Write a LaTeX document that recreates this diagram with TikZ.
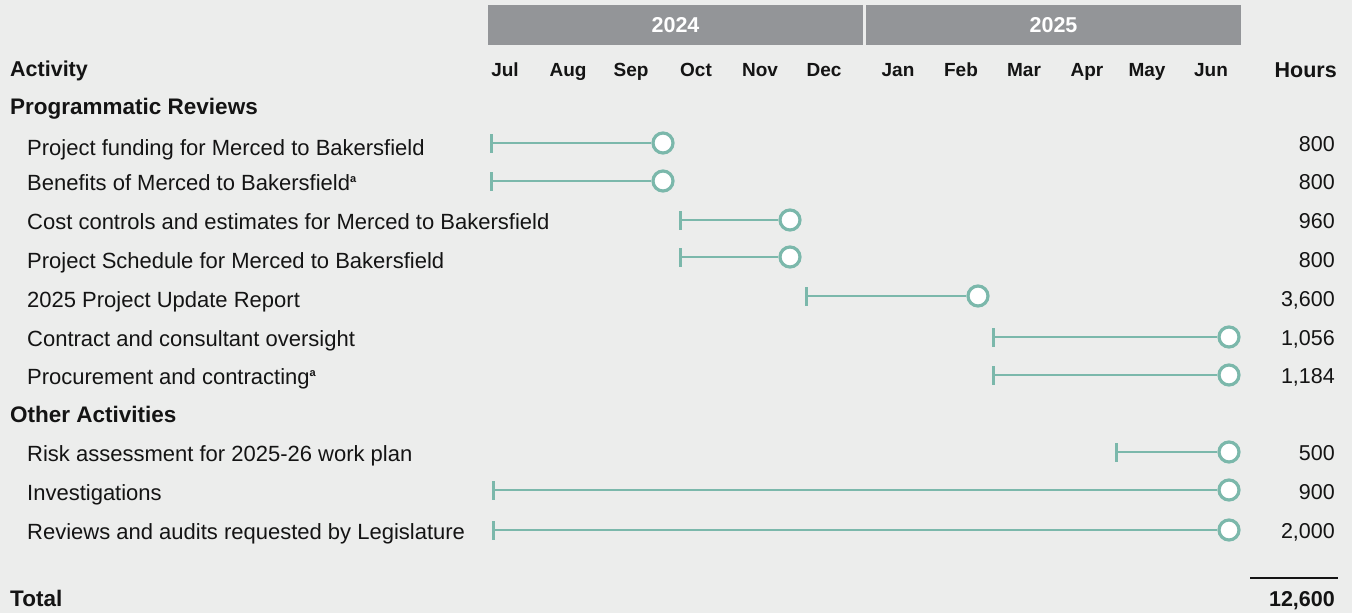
\documentclass[tikz,border=0pt]{standalone}
\usepackage{fontspec}
\setmainfont{Liberation Sans}
\usetikzlibrary{arrows.meta}
\definecolor{bg}{HTML}{ECEDEC}
\definecolor{hdr}{HTML}{939598}
\definecolor{teal}{HTML}{7BB8AB}
\definecolor{ink}{HTML}{141414}
\tikzset{
  lbl/.style={anchor=base west, inner sep=0pt, text=ink, font=\fontsize{22}{24}\selectfont},
  grp/.style={anchor=base west, inner sep=0pt, text=ink, font=\fontsize{22.5}{24}\selectfont\bfseries},
  mon/.style={anchor=base, inner sep=0pt, text=ink, font=\fontsize{19}{22}\selectfont\bfseries},
  hrs/.style={anchor=base east, inner sep=0pt, text=ink, font=\fontsize{21.5}{24}\selectfont},
  yearbar/.style={fill=hdr, draw=none, minimum height=40pt, inner sep=0pt, text=white, font=\fontsize{21.5}{24}\selectfont\bfseries},
  endc/.style={circle, draw=teal, line width=3.2pt, fill=white, minimum size=20pt, inner sep=0pt},
  barl/.style={draw=teal, line width=2.8pt, {Bar[width=19pt,line width=2.8pt]}-},
}
\begin{document}
\begin{tikzpicture}[x=1pt,y=-1pt]
\fill[bg] (0,0) rectangle (1352,613);
\useasboundingbox (0,0) rectangle (1352,613);
% year header
\node[yearbar, minimum width=375pt] (y24) at (675.5,25) {2024};
\node[yearbar, minimum width=375pt] (y25) at (1053.5,25) {2025};
% column headers
\node[grp, font=\fontsize{21.5}{24}\selectfont\bfseries] (act) at (10,76) {Activity};
\node[mon] (m1) at (505,76) {Jul};
\node[mon] (m2) at (568,76) {Aug};
\node[mon] (m3) at (631,76) {Sep};
\node[mon] (m4) at (696,76) {Oct};
\node[mon] (m5) at (760,76) {Nov};
\node[mon] (m6) at (824,76) {Dec};
\node[mon] (m7) at (898,76) {Jan};
\node[mon] (m8) at (961,76) {Feb};
\node[mon] (m9) at (1024,76) {Mar};
\node[mon] (m10) at (1087,76) {Apr};
\node[mon] (m11) at (1147,76) {May};
\node[mon] (m12) at (1211,76) {Jun};
\node[hrs, font=\fontsize{21.5}{24}\selectfont\bfseries] (hh) at (1337,77) {Hours};
% groups
\node[grp] (g1) at (10,114) {Programmatic Reviews};
\node[grp] (g2) at (10,422) {Other Activities};
% rows
\node[lbl] (l1) at (27,155) {Project funding for Merced to Bakersfield};
\node[lbl] (l2) at (27,190) {Benefits of Merced to Bakersfield\textsuperscript{\bfseries\fontsize{11}{12}\selectfont a}};
\node[lbl] (l3) at (27,229) {Cost controls and estimates for Merced to Bakersfield};
\node[lbl] (l4) at (27,268) {Project Schedule for Merced to Bakersfield};
\node[lbl] (l5) at (27,307) {2025 Project Update Report};
\node[lbl] (l6) at (27,346) {Contract and consultant oversight};
\node[lbl] (l7) at (27,384) {Procurement and contracting\textsuperscript{\bfseries\fontsize{11}{12}\selectfont a}};
\node[lbl] (l8) at (27,461) {Risk assessment for 2025-26 work plan};
\node[lbl] (l9) at (27,500) {Investigations};
\node[lbl] (l10) at (27,539) {Reviews and audits requested by Legislature};
% hours
\node[hrs] (h1) at (1335,151) {800};
\node[hrs] (h2) at (1335,189) {800};
\node[hrs] (h3) at (1335,228) {960};
\node[hrs] (h4) at (1335,267) {800};
\node[hrs] (h5) at (1335,306) {3,600};
\node[hrs] (h6) at (1335,345) {1,056};
\node[hrs] (h7) at (1335,383) {1,184};
\node[hrs] (h8) at (1335,460) {500};
\node[hrs] (h9) at (1335,499) {900};
\node[hrs] (h10) at (1335,538) {2,000};
% bars
\coordinate (s1) at (490,143);
\coordinate (s2) at (490,181);
\coordinate (s3) at (679,220);
\coordinate (s4) at (679,257);
\coordinate (s5) at (805,296);
\coordinate (s6) at (992,337);
\coordinate (s7) at (992,375);
\coordinate (s8) at (1115,452);
\coordinate (s9) at (492,490);
\coordinate (s10) at (492,530);
\node[endc] (e1) at (663,143) {};
\node[endc] (e2) at (663,181) {};
\node[endc] (e3) at (790,220) {};
\node[endc] (e4) at (790,257) {};
\node[endc] (e5) at (978,296) {};
\node[endc] (e6) at (1229,337) {};
\node[endc] (e7) at (1229,375) {};
\node[endc] (e8) at (1229,452) {};
\node[endc] (e9) at (1229,490) {};
\node[endc] (e10) at (1229,530) {};
\foreach \i in {1,...,10} {\draw[barl] (s\i) -- (e\i);}
% total
\coordinate (t1) at (1250,578);
\coordinate (t2) at (1338,578);
\draw[ink, line width=2pt] (t1) -- (t2);
\node[grp] (tot) at (10,606) {Total};
\node[hrs, font=\fontsize{21.5}{24}\selectfont\bfseries] (tv) at (1335,606) {12,600};
\end{tikzpicture}
\end{document}
